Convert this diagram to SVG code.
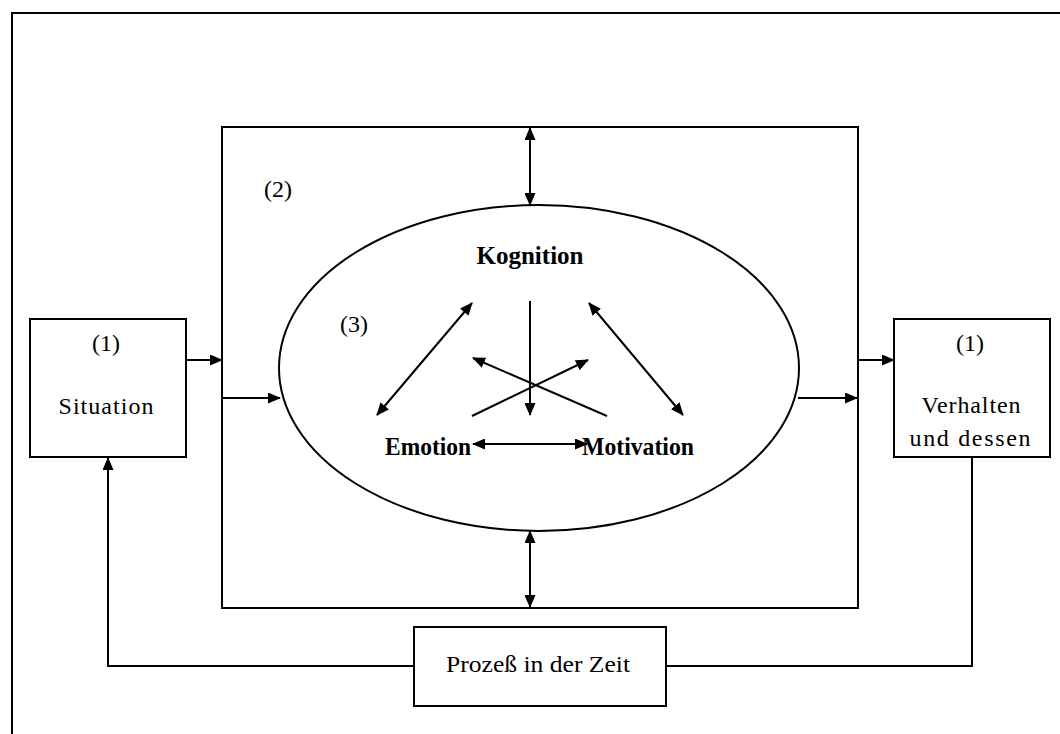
<svg xmlns="http://www.w3.org/2000/svg" width="1060" height="734" viewBox="0 0 1060 734">
  <defs>
    <marker id="head" markerUnits="userSpaceOnUse" markerWidth="13" markerHeight="11" refX="12" refY="5.5" orient="auto-start-reverse">
      <path d="M0,0 L13,5.5 L0,11 Z" fill="#000"/>
    </marker>
    <style>
      .box { fill: none; stroke: #000; stroke-width: 2; }
      .line { fill: none; stroke: #000; stroke-width: 2; }
      .arrow { fill: none; stroke: #000; stroke-width: 2; marker-end: url(#head); }
      .both { fill: none; stroke: #000; stroke-width: 2; marker-start: url(#head); marker-end: url(#head); }
      text { font-family: "Liberation Serif", Tinos, "Times New Roman", Times, serif; fill: #000; font-size: 24px; }
      .bold { font-weight: bold; font-size: 26px; }
    </style>
  </defs>
  <rect width="1060" height="734" fill="#fff"/>

  <!-- outer frame (runs off the page at right and bottom) -->
  <rect id="frame" class="box" x="12" y="13" width="1100" height="800"/>

  <!-- (2) inner system box -->
  <g id="system">
    <rect class="box" x="222" y="127" width="636" height="481"/>
    <text x="264" y="197" textLength="28">(2)</text>
  </g>

  <!-- (3) psychic core -->
  <g id="core">
    <ellipse class="box" cx="539" cy="368" rx="260" ry="163"/>
    <text x="340" y="332" textLength="28">(3)</text>
  </g>

  <g id="kognition">
    <text class="bold" x="530" y="264" text-anchor="middle" textLength="107" lengthAdjust="spacingAndGlyphs">Kognition</text>
  </g>
  <g id="emotion">
    <text class="bold" x="385" y="455" textLength="86" lengthAdjust="spacingAndGlyphs">Emotion</text>
  </g>
  <g id="motivation">
    <text class="bold" x="582" y="455" textLength="112" lengthAdjust="spacingAndGlyphs">Motivation</text>
  </g>

  <!-- (1) situation -->
  <g id="situation">
    <rect class="box" x="30" y="319" width="156" height="138"/>
    <text x="106" y="351" text-anchor="middle">(1)</text>
    <text x="106" y="414" text-anchor="middle" textLength="95">Situation</text>
  </g>

  <!-- (1) behaviour -->
  <g id="verhalten">
    <rect class="box" x="894" y="319" width="156" height="138"/>
    <text x="970" y="351" text-anchor="middle">(1)</text>
    <text x="971" y="413" text-anchor="middle" textLength="99">Verhalten</text>
    <text x="970" y="446" text-anchor="middle" textLength="121">und dessen</text>
  </g>

  <!-- process in time -->
  <g id="prozess">
    <rect class="box" x="414" y="627" width="252" height="79"/>
    <text x="446" y="672" font-size="25" textLength="184" lengthAdjust="spacingAndGlyphs">Prozeß in der Zeit</text>
  </g>

  <g id="connectors">
    <!-- situation into system and core -->
    <line class="arrow" x1="186" y1="360" x2="222" y2="360"/>
    <line class="arrow" x1="222" y1="398" x2="280" y2="398"/>
    <!-- core out to behaviour -->
    <line class="arrow" x1="798" y1="398" x2="857" y2="398"/>
    <line class="arrow" x1="857" y1="360" x2="894" y2="360"/>
    <!-- exchange between core and system -->
    <line class="both" x1="530" y1="128" x2="530" y2="205"/>
    <line class="both" x1="530" y1="531" x2="530" y2="607"/>
    <!-- triangle of Kognition, Emotion, Motivation -->
    <line class="both" x1="377" y1="415" x2="472" y2="303"/>
    <line class="both" x1="589" y1="303" x2="683" y2="415"/>
    <line class="arrow" x1="530" y1="301" x2="530" y2="415"/>
    <line class="arrow" x1="472" y1="416" x2="588" y2="360"/>
    <line class="arrow" x1="607" y1="416" x2="473" y2="358"/>
    <line class="both" x1="473" y1="444" x2="587" y2="444"/>
    <!-- feedback loop over time -->
    <polyline class="line" points="414,666 108,666 108,458" marker-end="url(#head)"/>
    <polyline class="line" points="666,666 972,666 972,457"/>
  </g>
</svg>
